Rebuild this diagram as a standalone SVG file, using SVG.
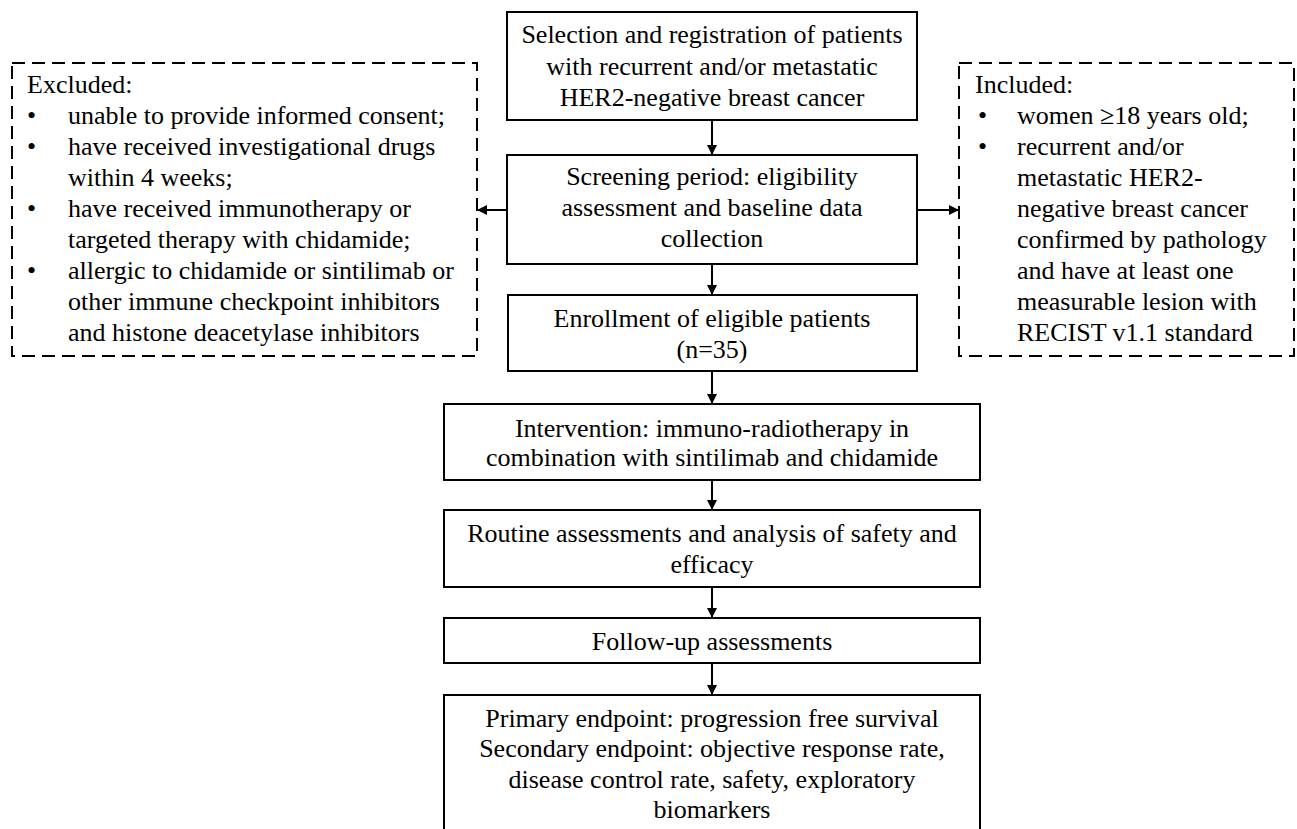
<svg xmlns="http://www.w3.org/2000/svg" width="1297" height="829" viewBox="0 0 1297 829">
<style>
.box{fill:#fff;stroke:#000;stroke-width:2}
.dash{fill:none;stroke:#000;stroke-width:2;stroke-dasharray:13,7}
.t{font-family:"Liberation Serif","Times New Roman",serif;font-size:26px;fill:#000}
.c{text-anchor:middle}
.line{stroke:#000;stroke-width:2;fill:none}
</style>
<defs>
<marker id="ah" viewBox="0 0 10 10" refX="10" refY="5" markerWidth="5" markerHeight="5" orient="auto" markerUnits="strokeWidth">
<path d="M0,0 L10,5 L0,10 z" fill="#000"/>
</marker>
</defs>
<rect width="1297" height="829" fill="#fff"/>
<g id="connectors">
<line class="line" x1="712" y1="120" x2="712" y2="155" marker-end="url(#ah)"/>
<line class="line" x1="712" y1="264" x2="712" y2="295" marker-end="url(#ah)"/>
<line class="line" x1="712" y1="371" x2="712" y2="404" marker-end="url(#ah)"/>
<line class="line" x1="712" y1="480" x2="712" y2="510" marker-end="url(#ah)"/>
<line class="line" x1="712" y1="587" x2="712" y2="618" marker-end="url(#ah)"/>
<line class="line" x1="712" y1="663" x2="712" y2="695" marker-end="url(#ah)"/>
<line class="line" x1="507" y1="210" x2="477" y2="210" marker-end="url(#ah)"/>
<line class="line" x1="917" y1="210" x2="959" y2="210" marker-end="url(#ah)"/>
</g>
<g id="selection">
<rect class="box" x="507" y="12" width="410" height="108"/>
<text class="t c" x="712" y="43">Selection and registration of patients</text>
<text class="t c" x="712" y="75">with recurrent and/or metastatic</text>
<text class="t c" x="712" y="106">HER2-negative breast cancer</text>
</g>
<g id="screening">
<rect class="box" x="507" y="155" width="410" height="109"/>
<text class="t c" x="712" y="185">Screening period: eligibility</text>
<text class="t c" x="712" y="216">assessment and baseline data</text>
<text class="t c" x="712" y="247">collection</text>
</g>
<g id="enrollment">
<rect class="box" x="508" y="295" width="409" height="76"/>
<text class="t c" x="712" y="327">Enrollment of eligible patients</text>
<text class="t c" x="712" y="358">(n=35)</text>
</g>
<g id="intervention">
<rect class="box" x="444" y="404" width="536" height="76"/>
<text class="t c" x="712" y="437">Intervention: immuno-radiotherapy in</text>
<text class="t c" x="712" y="466">combination with sintilimab and chidamide</text>
</g>
<g id="routine">
<rect class="box" x="444" y="510" width="536" height="77"/>
<text class="t c" x="712" y="542">Routine assessments and analysis of safety and</text>
<text class="t c" x="712" y="573">efficacy</text>
</g>
<g id="followup">
<rect class="box" x="444" y="618" width="536" height="45"/>
<text class="t c" x="712" y="650">Follow-up assessments</text>
</g>
<g id="endpoints">
<rect class="box" x="444" y="695" width="536" height="140"/>
<text class="t c" x="712" y="727">Primary endpoint: progression free survival</text>
<text class="t c" x="712" y="757">Secondary endpoint: objective response rate,</text>
<text class="t c" x="712" y="788">disease control rate, safety, exploratory</text>
<text class="t c" x="712" y="818">biomarkers</text>
</g>
<g id="excluded">
<rect class="dash" x="12" y="63" width="465" height="293"/>
<text class="t" x="27" y="93">Excluded:</text>
<text class="t" x="27" y="124">•</text><text class="t" x="68" y="124">unable to provide informed consent;</text>
<text class="t" x="27" y="155">•</text><text class="t" x="68" y="155">have received investigational drugs</text>
<text class="t" x="68" y="186">within 4 weeks;</text>
<text class="t" x="27" y="217">•</text><text class="t" x="68" y="217">have received immunotherapy or</text>
<text class="t" x="68" y="248">targeted therapy with chidamide;</text>
<text class="t" x="27" y="279">•</text><text class="t" x="68" y="279">allergic to chidamide or sintilimab or</text>
<text class="t" x="68" y="310">other immune checkpoint inhibitors</text>
<text class="t" x="68" y="341">and histone deacetylase inhibitors</text>
</g>
<g id="included">
<rect class="dash" x="959" y="63" width="335" height="293"/>
<text class="t" x="975" y="93">Included:</text>
<text class="t" x="978" y="124">•</text><text class="t" x="1017" y="124">women ≥18 years old;</text>
<text class="t" x="978" y="155">•</text><text class="t" x="1017" y="155">recurrent and/or</text>
<text class="t" x="1017" y="186">metastatic HER2-</text>
<text class="t" x="1017" y="217">negative breast cancer</text>
<text class="t" x="1017" y="248">confirmed by pathology</text>
<text class="t" x="1017" y="279">and have at least one</text>
<text class="t" x="1017" y="310">measurable lesion with</text>
<text class="t" x="1017" y="341">RECIST v1.1 standard</text>
</g>
</svg>
